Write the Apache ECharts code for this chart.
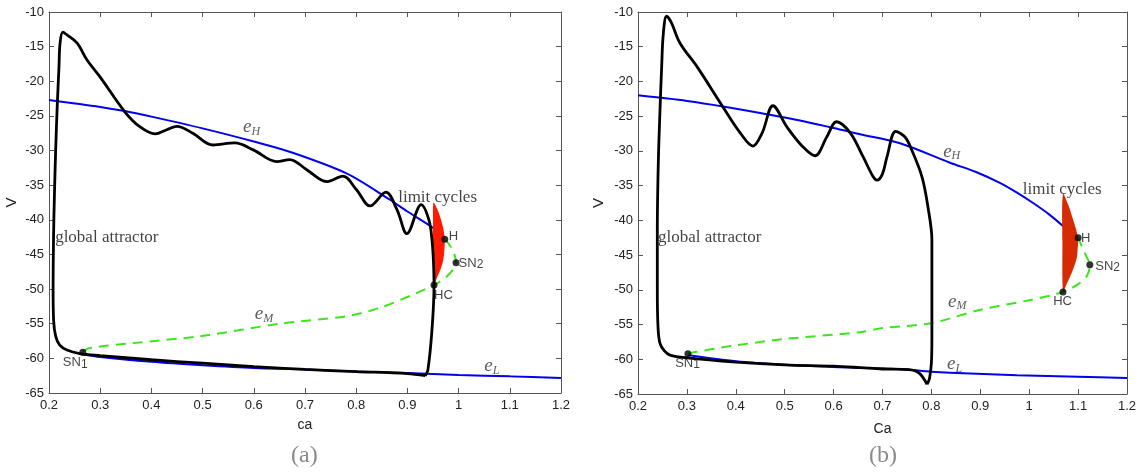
<!DOCTYPE html>
<html><head><meta charset="utf-8">
<script src="https://cdn.jsdelivr.net/npm/echarts@6/dist/echarts.min.js"></script>
<style>html,body{margin:0;padding:0;background:#fff}#c{width:1140px;height:473px}</style>
</head><body><div id="c"></div>
<script>
// ---------- data (ca, V) ----------
const blackA = [[0.935,-62.5],[0.9,-62.2],[0.8,-61.9],[0.7,-61.6],[0.6,-61.2],[0.5,-60.7],[0.4,-60.2],[0.3,-59.6],[0.26,-59.3],[0.235,-58.8],[0.221,-58.1],[0.213,-56.8],[0.209,-54.5],[0.208,-50],[0.209,-42],[0.2104,-37],[0.213,-30],[0.216,-23.7],[0.2195,-17.9],[0.2216,-14.5],[0.227,-12.9],[0.235,-13.3],[0.255,-14.5],[0.274,-16.9],[0.3,-19.4],[0.348,-24.4],[0.378,-26.6],[0.407,-27.6],[0.43,-27.0],[0.45,-26.5],[0.481,-27.5],[0.52,-29.2],[0.563,-28.9],[0.599,-29.9],[0.645,-31.6],[0.67,-31.3],[0.704,-32.8],[0.743,-34.5],[0.774,-33.7],[0.801,-35.7],[0.827,-38.0],[0.858,-36.0],[0.88,-38.6],[0.899,-42.0],[0.927,-37.8],[0.942,-40.0],[0.948,-42.9],[0.951,-46.2],[0.952,-49.4],[0.948,-55.9],[0.94,-61.7],[0.935,-62.5]];
const eHA = [[0.2,-22.7],[0.3,-23.7],[0.348,-24.3],[0.4,-25.1],[0.5,-26.8],[0.6,-28.7],[0.671,-30.2],[0.781,-33.3],[0.866,-37.1],[0.9,-38.8],[0.947,-41.0],[0.952,-41.3]];
const eMA = [[0.266,-59.0],[0.28,-58.5],[0.364,-57.8],[0.495,-56.8],[0.651,-55.0],[0.782,-53.9],[0.846,-52.7],[0.911,-50.8],[0.952,-49.4],[0.975,-48.3],[0.99,-47.1],[0.995,-46.2],[0.991,-44.8],[0.982,-43.6],[0.973,-42.8]];
const eLA = [[0.266,-59.4],[0.3,-59.8],[0.4,-60.5],[0.5,-61.0],[0.6,-61.4],[0.7,-61.6],[0.8,-61.9],[0.9,-62.1],[1.0,-62.4],[1.1,-62.6],[1.2,-62.85]];
const cyclesA = [[0.951,-37.5],[0.958,-38.4],[0.964,-39.6],[0.970,-41.2],[0.973,-42.9],[0.972,-44.5],[0.970,-45.8],[0.965,-47.1],[0.958,-48.3],[0.952,-49.4],[0.950,-45],[0.950,-40]];
const pointsA = [[0.266,-59.1],[0.973,-42.8],[0.995,-46.2],[0.952,-49.4]];
const textA = [
  ['{e|e}{es|H}',0.579,-26.7],['{e|e}{es|M}',0.602,-53.7],['{e|e}{es|L}',1.05,-61.2],
  ['{t|limit cycles}',0.882,-36.8],['{t|global attractor}',0.212,-42.5],
  ['{p|SN}{ps|1}',0.227,-60.7],['{p|SN}{ps|2}',1.0,-46.4],['{p|H}',0.981,-42.5],['{p|HC}',0.952,-51.0]];

const blackB = [[0.791,-63.6],[0.775,-62.0],[0.754,-61.5],[0.7,-61.4],[0.654,-61.2],[0.6,-61.0],[0.5,-60.8],[0.4,-60.4],[0.3,-59.8],[0.2654,-59.4],[0.254,-58.8],[0.245,-57.7],[0.241,-55.5],[0.2395,-50],[0.2395,-41.4],[0.2415,-31.8],[0.245,-24.1],[0.2484,-17.9],[0.2518,-13.1],[0.2586,-10.6],[0.268,-11.5],[0.286,-14.5],[0.321,-17.9],[0.374,-23.7],[0.409,-27.4],[0.435,-29.3],[0.454,-27.4],[0.476,-23.5],[0.505,-26.6],[0.537,-29.4],[0.562,-30.7],[0.586,-28.0],[0.606,-25.8],[0.634,-27.4],[0.66,-30.8],[0.68,-33.6],[0.689,-34.2],[0.70,-33.3],[0.709,-30.9],[0.727,-27.2],[0.746,-28.0],[0.76,-29.9],[0.781,-33.8],[0.793,-38.1],[0.801,-42.8],[0.801,-50],[0.801,-57],[0.800,-60.5],[0.796,-62.8],[0.791,-63.6]];
const eHB = [[0.2,-22.0],[0.3,-22.8],[0.374,-23.6],[0.5,-25.2],[0.6,-26.7],[0.654,-27.6],[0.736,-28.9],[0.838,-31.7],[0.89,-33.0],[0.94,-34.6],[0.975,-36.0],[1.008,-37.5],[1.04,-39.1],[1.069,-40.8]];
const eMB = [[0.302,-59.2],[0.314,-59.0],[0.39,-58.1],[0.497,-57.1],[0.654,-56.1],[0.70,-55.5],[0.8,-54.8],[0.898,-52.9],[1.0,-51.5],[1.045,-50.8],[1.069,-50.3],[1.098,-49.3],[1.118,-48.0],[1.124,-46.4],[1.117,-45.2],[1.108,-43.8],[1.1,-42.5]];
const eLB = [[0.302,-59.4],[0.4,-60.3],[0.5,-60.8],[0.6,-61.1],[0.733,-61.4],[0.8,-61.8],[0.838,-61.95],[0.975,-62.3],[1.1,-62.5],[1.2,-62.7]];
const cyclesB = [[1.069,-36.2],[1.080,-37.8],[1.088,-39.5],[1.096,-41.3],[1.100,-42.8],[1.099,-44.2],[1.097,-45.5],[1.090,-47.0],[1.083,-48.2],[1.075,-49.4],[1.069,-50.3],[1.068,-43]];
const pointsB = [[0.302,-59.2],[1.1,-42.5],[1.124,-46.4],[1.069,-50.3]];
const textB = [
  ['{e|e}{es|H}',0.824,-30.2],['{e|e}{es|M}',0.834,-51.8],['{e|e}{es|L}',0.832,-60.8],
  ['{t|limit cycles}',0.987,-35.6],['{t|global attractor}',0.241,-42.5],
  ['{p|SN}{ps|1}',0.276,-60.7],['{p|SN}{ps|2}',1.135,-46.7],['{p|H}',1.106,-42.7],['{p|HC}',1.049,-51.8]];

const xNames = ['ca','Ca'];
const yNames = ['V','V'];
const panelTags = ['(a)','(b)'];

// ---------- styling ----------
const AX = '#555';
const sans = 'Liberation Sans';
const serif = 'Liberation Serif';
const rich = {
  t:{fontFamily:serif,fontSize:17,color:'#111'},
  e:{fontFamily:serif,fontStyle:'italic',fontSize:19,color:'#333',lineHeight:20,verticalAlign:'top'},
  es:{fontFamily:serif,fontStyle:'italic',fontSize:12,color:'#333',lineHeight:12,padding:[12,0,0,0],verticalAlign:'bottom'},
  p:{fontFamily:sans,fontSize:13,color:'#111',lineHeight:14,verticalAlign:'top'},
  ps:{fontFamily:sans,fontSize:12,color:'#111',lineHeight:12,padding:[11,0,0,0],verticalAlign:'bottom'}
};
const fmt = v => String(Math.round(v*10)/10);

const grids = [
  {left:49, top:12, width:512, height:381},
  {left:638, top:12, width:489, height:382}
];
const xAxes = [], yAxes = [];
grids.forEach((g,i)=>{
  const common = {type:'value', gridIndex:i, splitLine:{show:false},
    axisLine:{show:true,onZero:false,lineStyle:{color:AX,width:1}},
    axisTick:{show:true,inside:true,length:5,lineStyle:{color:AX}}};
  xAxes.push(Object.assign({}, common, {position:'bottom', min:0.2, max:1.2, interval:0.1,
    axisLabel:{fontFamily:sans,fontSize:13,color:'#222',margin:6,formatter:fmt},
    name:xNames[i], nameLocation:'middle', nameGap:i===0?25:28,
    nameTextStyle:{fontFamily:sans,fontSize:14,color:'#222'}}));
  xAxes.push(Object.assign({}, common, {position:'top', min:0.2, max:1.2, interval:0.1, axisLabel:{show:false}}));
  yAxes.push(Object.assign({}, common, {position:'left', min:-65, max:-10, interval:5,
    axisLabel:{fontFamily:sans,fontSize:13,color:'#222',margin:5},
    name:yNames[i], nameLocation:'middle', nameGap:i===0?30:32, nameRotate:90,
    nameTextStyle:{fontFamily:sans,fontSize:15,color:'#222'}}));
  yAxes.push(Object.assign({}, common, {position:'right', min:-65, max:-10, interval:5, axisLabel:{show:false}}));
});

function panelSeries(i, black, eH, eM, eL, cycles, pts, texts, redColor){
  const xi = i*2, yi = i*2;
  const base = {xAxisIndex:xi, yAxisIndex:yi};
  return [
    Object.assign({type:'line', data:eL, showSymbol:false, smooth:0.3, lineStyle:{color:'#0000ee',width:2}, z:2, silent:true}, base),
    Object.assign({type:'line', data:eM, showSymbol:false, smooth:0.3, lineStyle:{color:'#3ce61a',width:2,type:[10,7]}, z:2, silent:true}, base),
    Object.assign({type:'line', data:eH, showSymbol:false, smooth:0.3, lineStyle:{color:'#0000ee',width:2}, z:2, silent:true}, base),
    Object.assign({type:'custom', data:cycles, z:3, silent:true,
      renderItem:(params, api)=>{
        if (params.dataIndex !== 0) return null;
        const p = cycles.map(c => api.coord(c));
        return {type:'polygon', shape:{points:p, smooth:0.3}, style:{fill:redColor}};
      }}, base),
    Object.assign({type:'line', data:black, showSymbol:false, smooth:0.35, lineStyle:{color:'#000',width:2.8}, z:4, silent:true}, base),
    Object.assign({type:'scatter', data:pts, symbol:'circle', symbolSize:7, itemStyle:{color:'#000'}, z:5, silent:true}, base),
    Object.assign({type:'scatter', symbolSize:0, z:6, silent:true,
      data: texts.map(t=>({value:[t[1],t[2]], label:{formatter:t[0]}})),
      label:{show:true, position:'right', distance:0, rich:rich}}, base)
  ];
}

const series = [].concat(
  panelSeries(0, blackA, eHA, eMA, eLA, cyclesA, pointsA, textA, '#ff1a00'),
  panelSeries(1, blackB, eHB, eMB, eLB, cyclesB, pointsB, textB, '#d62a00')
);

const chart = echarts.init(document.getElementById('c'), null, {renderer:'canvas'});
chart.setOption({
  animation:false,
  backgroundColor:'#fff',
  grid:grids,
  xAxis:xAxes,
  yAxis:yAxes,
  series:series,
  graphic:[
    {type:'text', left:291, top:444, style:{text:panelTags[0], font:'24px "Liberation Serif"', fill:'#8a8a8a'}},
    {type:'text', left:869, top:444, style:{text:panelTags[1], font:'24px "Liberation Serif"', fill:'#8a8a8a'}}
  ]
});
</script></body></html>
